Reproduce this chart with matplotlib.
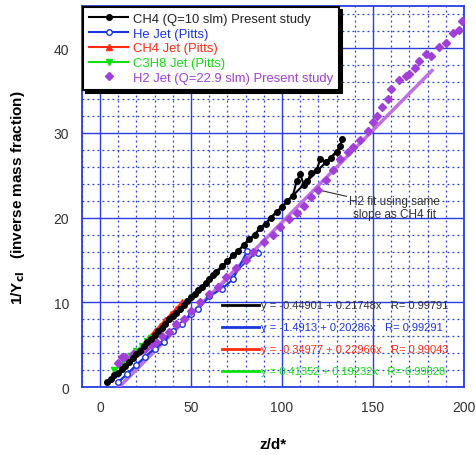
import numpy as np
import matplotlib.pyplot as plt
from matplotlib.ticker import MultipleLocator

plt.rcParams['font.family'] = ['Liberation Sans', 'DejaVu Sans']

# CH4 (Q=10 slm) present study
ch4_x = [4, 6, 8, 10, 12, 14, 16, 18, 20, 22, 24, 26, 28, 30, 32, 34, 36, 38, 40, 42,
         44, 46, 48, 50, 52, 54, 56, 58, 60, 62, 64, 67, 70, 73, 76, 79, 82, 85, 88, 91,
         94, 97, 100, 103, 106, 108, 110, 112, 114, 116, 119, 121, 124, 127, 130, 132, 133]
ch4_y = [0.6, 1.0, 1.4, 1.7, 2.1, 2.5, 3.0, 3.4, 3.9, 4.3, 4.8, 5.3, 5.7, 6.2, 6.6, 7.0, 7.5, 8.0, 8.4, 8.8,
         9.2, 9.7, 10.1, 10.6, 11.0, 11.5, 11.8, 12.3, 12.7, 13.2, 13.6, 14.3, 14.9, 15.6, 16.1, 16.8, 17.5, 18.0, 18.8, 19.3,
         20.0, 20.7, 21.2, 22.0, 22.6, 24.3, 25.1, 23.9, 24.3, 25.3, 25.6, 26.9, 26.6, 27.0, 27.8, 28.5, 29.3]

# He jet (Pitts)
he_x = [10, 15, 20, 25, 30, 35, 40, 45, 50, 54, 60, 67, 73, 81, 87]
he_y = [0.6, 1.5, 2.6, 3.6, 4.5, 5.3, 6.6, 7.5, 8.6, 9.2, 10.7, 11.6, 12.7, 16.1, 15.8]

# CH4 jet (Pitts)
ch4p_x = [24, 27, 30, 33, 36, 39, 42, 45]
ch4p_y = [5.1, 5.8, 6.6, 7.2, 7.9, 8.6, 9.2, 10.0]

# C3H8 jet (Pitts)
c3h8_x = [8, 11, 14, 17, 20, 23, 26, 28]
c3h8_y = [2.0, 2.5, 3.1, 3.7, 4.3, 4.8, 5.4, 5.8]

# H2 jet (Q=22.9 slm) present study
h2_x = [10, 12, 14, 18, 22, 25, 28, 31, 34, 38, 42, 46, 50, 55, 60, 65, 69, 75, 80, 84,
        90, 95, 99, 104, 108, 112, 116, 120, 124, 128, 132, 136, 139, 143, 147, 150, 152, 155,
        158, 160, 164, 168, 170, 173, 175, 179, 182, 186, 190, 194, 197, 199]
h2_y = [2.8, 3.6, 3.5, 3.9, 4.2, 4.5, 5.0, 5.3, 6.0, 6.5, 7.4, 8.0, 9.0, 10.0, 11.0, 11.8, 13.0, 14.0, 15.0, 15.9,
        17.1, 18.0, 18.9, 19.8, 20.6, 21.4, 22.4, 23.3, 24.4, 25.6, 26.9, 27.7, 28.3, 29.2, 30.2, 31.3, 32.0, 33.0,
        34.0, 35.2, 36.3, 36.7, 36.9, 37.7, 38.5, 39.3, 39.1, 40.1, 40.6, 41.8, 42.2, 43.2]

# linear fits: intercept, slope, R, x-range
fit_a = [-0.44901, -1.4913, -0.34977, 0.41352]
fit_b = [0.21748, 0.20286, 0.22966, 0.19232]
fit_r = [0.99791, 0.99291, 0.99043, 0.99828]
fit_x0 = [4, 10, 24, 8]
fit_x1 = [133, 87, 45, 28]

# H2 fit using the CH4 slope
h2_fit_a = -2.3
h2_fit_x = [10.6, 182.4]

black = '#000000'
blue = '#1a35e0'
red = '#ff2a10'
green = '#10e010'
purple = '#a23fd6'
purple_fit = '#c070e0'
gridc = '#2a3ee0'

fig = plt.figure(figsize=(4.76, 4.56), dpi=100)
ax = fig.add_axes([0.1716, 0.149, 0.8034, 0.836])

ax.set_xlim(-10, 200)
ax.set_ylim(0, 45)
ax.xaxis.set_major_locator(MultipleLocator(50))
ax.xaxis.set_minor_locator(MultipleLocator(10))
ax.yaxis.set_major_locator(MultipleLocator(10))
ax.yaxis.set_minor_locator(MultipleLocator(2))
ax.grid(which='major', color=gridc, lw=1.0, ls='-')
ax.grid(which='minor', color=gridc, lw=0.9, ls=(0, (1.5, 2.5)))
ax.set_axisbelow(True)
ax.tick_params(which='both', length=0, labelsize=10, labelcolor='#333333')
ax.tick_params(axis='x', pad=9)
ax.tick_params(axis='y', pad=9)
for s in ax.spines.values():
    s.set_color(gridc)
    s.set_linewidth(1.3)

# fit lines
colors = [black, blue, red, green]
for a, b, x0, x1, c in zip(fit_a, fit_b, fit_x0, fit_x1, colors):
    xx = np.array([x0, x1])
    ax.plot(xx, a + b * xx, color=c, lw=1.5, zorder=3)

xx = np.array(h2_fit_x)
ax.plot(xx, h2_fit_a + fit_b[0] * xx, color=purple_fit, lw=2.5, zorder=3)

# data
l1, = ax.plot(ch4_x, ch4_y, color=black, lw=1.5, marker='o', ms=4, zorder=5,
              label='CH4 (Q=10 slm) Present study')
l2, = ax.plot(he_x, he_y, color=blue, lw=1.5, marker='o', ms=4, mfc='white', zorder=4,
              label='He Jet (Pitts)')
l3, = ax.plot(ch4p_x, ch4p_y, color=red, lw=1.5, marker='^', ms=4, zorder=4,
              label='CH4 Jet (Pitts)')
l4, = ax.plot(c3h8_x, c3h8_y, color=green, lw=1.5, marker='v', ms=4, zorder=4,
              label='C3H8 Jet (Pitts)')
l5, = ax.plot(h2_x, h2_y, color=purple, ls='none', marker='D', ms=4.5, zorder=4,
              label='H2 Jet (Q=22.9 slm) Present study')

leg = ax.legend(handles=[l1, l2, l3, l4, l5], loc='upper left', bbox_to_anchor=(0.004, 0.997),
                borderaxespad=0, fontsize=9.4, handlelength=3.0, handletextpad=0.4,
                labelspacing=0.2, borderpad=0.45, fancybox=False, framealpha=1,
                edgecolor='black', shadow={'color': 'black', 'alpha': 1})
leg.get_frame().set_linewidth(1.5)
for t, c in zip(leg.get_texts(), [black, blue, red, green, purple]):
    t.set_color(c if c != black else '#222222')

# equation box entries
eq_y = [(388 - 305.7) / 8.48, (388 - 328) / 8.48, (388 - 350) / 8.48, (388 - 371.7) / 8.48]
for a, b, r, c, yy in zip(fit_a, fit_b, fit_r, colors, eq_y):
    ax.plot([67, 87.5], [yy, yy], color=c, lw=2, zorder=6)
    ax.text(88.5, yy, f'y = {a:.5g} + {b:.5f}x   R= {r:.5f}', color=c if c != black else '#333333',
            fontsize=8, va='center', ha='left', zorder=6)

ax.annotate('H2 fit using same\nslope as CH4 fit', xy=(119.5, 23.3), xytext=(162, 21.2),
            fontsize=8.5, color='#333333', ha='center', va='center', linespacing=1.1,
            arrowprops=dict(arrowstyle='-', color='#333333', lw=0.8, shrinkA=32, shrinkB=0))

ax.set_xlabel('z/d*', fontsize=11, fontweight='bold', labelpad=17)
ax.set_ylabel(r'1/Y$_{\mathbf{cl}}$   (inverse mass fraction)', fontsize=11, fontweight='bold', labelpad=19)

fig.savefig('out.png', dpi=100, facecolor='white')
